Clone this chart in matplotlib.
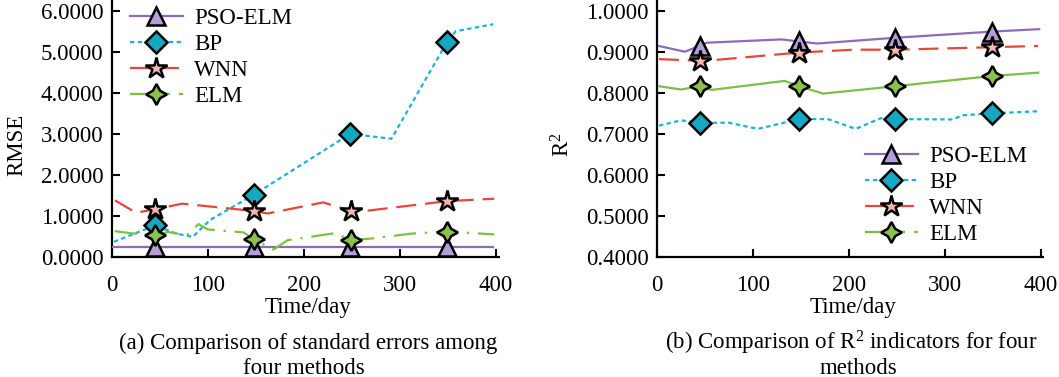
import matplotlib
matplotlib.use("Agg")
import matplotlib.pyplot as plt
from matplotlib.lines import Line2D

plt.rcParams['font.family'] = ['Liberation Serif', 'DejaVu Serif']
plt.rcParams['mathtext.fontset'] = 'custom'
plt.rcParams['mathtext.rm'] = 'Liberation Serif'
plt.rcParams['mathtext.it'] = 'Liberation Serif:italic'

series_names = ["PSO-ELM", "BP", "WNN", "ELM"]
x_ticks = [0, 100, 200, 300, 400]
rmse_ticks = [0, 1, 2, 3, 4, 5, 6]
r2_ticks = [0.4, 0.5, 0.6, 0.7, 0.8, 0.9, 1.0]

# ---- (a) RMSE ----
pso_rmse_x = [0, 45, 148, 248, 349, 397]
pso_rmse_y = [0.25, 0.25, 0.25, 0.25, 0.25, 0.25]
pso_rmse_mk = [1, 2, 3, 4]

bp_rmse_x = [2, 45, 67, 84, 102, 148, 248, 291, 349, 358, 397]
bp_rmse_y = [0.37, 0.77, 0.57, 0.49, 0.90, 1.52, 3.00, 2.88, 5.24, 5.50, 5.67]
bp_rmse_mk = [1, 5, 6, 8]

wnn_rmse_x = [3, 25, 45, 73, 148, 162, 220, 249, 263, 349, 398]
wnn_rmse_y = [1.38, 1.08, 1.16, 1.30, 1.12, 1.06, 1.33, 1.12, 1.12, 1.36, 1.42]
wnn_rmse_mk = [2, 4, 7, 9]

elm_rmse_x = [3, 23, 45, 58, 78, 90, 100, 137, 148, 168, 183, 232, 249, 270, 312, 349, 398]
elm_rmse_y = [0.63, 0.57, 0.53, 0.61, 0.53, 0.80, 0.67, 0.60, 0.43, 0.18, 0.41,
              0.58, 0.41, 0.45, 0.57, 0.62, 0.55]
elm_rmse_mk = [2, 8, 12, 15]

# ---- (b) R^2 ----
pso_r2_x = [2, 29, 45, 52, 130, 148, 167, 248, 349, 398]
pso_r2_y = [0.914, 0.900, 0.915, 0.922, 0.930, 0.925, 0.920, 0.934, 0.949, 0.955]
pso_r2_mk = [2, 5, 7, 8]

bp_r2_x = [2, 25, 45, 75, 105, 148, 178, 207, 233, 248, 308, 318, 349, 397]
bp_r2_y = [0.720, 0.733, 0.727, 0.727, 0.712, 0.736, 0.736, 0.712, 0.738, 0.736,
           0.735, 0.745, 0.750, 0.755]
bp_r2_mk = [2, 5, 9, 12]

wnn_r2_x = [2, 45, 56, 148, 205, 248, 349, 397]
wnn_r2_y = [0.882, 0.878, 0.879, 0.898, 0.905, 0.905, 0.911, 0.914]
wnn_r2_mk = [1, 3, 5, 6]

elm_r2_x = [2, 25, 45, 57, 133, 148, 173, 248, 349, 397]
elm_r2_y = [0.816, 0.808, 0.816, 0.807, 0.829, 0.816, 0.798, 0.816, 0.841, 0.849]
elm_r2_mk = [2, 5, 7, 8]

FS = 16.5
W, H = 1059, 377
fig = plt.figure(figsize=(W / 100, H / 100), dpi=100)

styles = {
    "PSO-ELM": dict(color='#8E6BB8', mfc='#B39DDB', marker='^', ms=13, ls='-'),
    "BP": dict(color='#1BB4D4', mfc='#14A8C2', marker='D', ms=11, ls=(0, (2, 1.5))),
    "WNN": dict(color='#E8453C', mfc='#F7B5B0', marker='*', ms=16, ls=(0, (9, 4))),
    "ELM": dict(color='#7DBF45', mfc='#8BC34A', marker=(4, 1, 0), ms=15, ls=(0, (10, 4, 1, 4))),
}


def draw(ax, x, y, mk, name, ls=None):
    st = styles[name]
    ax.plot(x, y, color=st['color'], lw=1.6, ls=ls if ls is not None else st['ls'],
            marker=st['marker'], ms=st['ms'], mfc=st['mfc'], mec='black', mew=1.8,
            markevery=mk, zorder=3)


def style_axes(ax):
    for s in ['top', 'right']:
        ax.spines[s].set_visible(False)
    for s in ['left', 'bottom']:
        ax.spines[s].set_linewidth(1.6)
    ax.tick_params(direction='in', length=6, width=1.5, labelsize=FS)
    ax.tick_params(axis='x', pad=13)
    ax.tick_params(axis='y', pad=6)


def legend_handles(elm_ls):
    hs = []
    for n in series_names:
        st = styles[n]
        ls = st['ls'] if n != 'ELM' else elm_ls
        hs.append(Line2D([], [], color=st['color'], lw=1.6, ls=ls, marker=st['marker'],
                         ms=st['ms'], mfc=st['mfc'], mec='black', mew=1.8))
    return hs


def px_axes(l, r, b, t):
    return fig.add_axes([l / W, 1 - b / H, (r - l) / W, (b - t) / H])


LEG = dict(frameon=False, fontsize=FS, handlelength=2.3, handletextpad=0.5,
           labelspacing=0.22, borderpad=0, borderaxespad=0, numpoints=1, loc='upper left')

# Left panel
ax1 = px_axes(112, 499, 257, 0)
draw(ax1, pso_rmse_x, pso_rmse_y, pso_rmse_mk, "PSO-ELM")
draw(ax1, bp_rmse_x, bp_rmse_y, bp_rmse_mk, "BP")
draw(ax1, wnn_rmse_x, wnn_rmse_y, wnn_rmse_mk, "WNN")
draw(ax1, elm_rmse_x, elm_rmse_y, elm_rmse_mk, "ELM")
ax1.set_xlim(0, 403)
ax1.set_ylim(0, 6.26)
ax1.set_xticks(x_ticks)
ax1.set_yticks(rmse_ticks)
ax1.set_yticklabels([f"{v:.4f}" for v in rmse_ticks])
style_axes(ax1)
ax1.legend(legend_handles((0, (7, 4))), series_names,
           bbox_to_anchor=((130 - 112) / 387, 1 - 8 / 257), **LEG)

# Right panel
ax2 = px_axes(657, 1043, 257, 0)
draw(ax2, pso_r2_x, pso_r2_y, pso_r2_mk, "PSO-ELM")
draw(ax2, bp_r2_x, bp_r2_y, bp_r2_mk, "BP")
draw(ax2, wnn_r2_x, wnn_r2_y, wnn_r2_mk, "WNN")
draw(ax2, elm_r2_x, elm_r2_y, elm_r2_mk, "ELM", ls='-')
ax2.set_xlim(0, 402)
ax2.set_ylim(0.4, 1.026)
ax2.set_xticks(x_ticks)
ax2.set_yticks(r2_ticks)
ax2.set_yticklabels([f"{v:.4f}" for v in r2_ticks])
style_axes(ax2)
ax2.legend(legend_handles((0, (7, 4))), series_names,
           bbox_to_anchor=((865 - 657) / 386, 1 - 146 / 257), **LEG)

# Axis labels and captions
fig.text(17 / W, 1 - 145 / H, "RMSE", rotation=90, ha='center', va='center', fontsize=FS)
fig.text(563 / W, 1 - 145 / H, "R$^2$", rotation=90, ha='center', va='center', fontsize=FS)
fig.text(308 / W, 1 - 307 / H, "Time/day", ha='center', va='center', fontsize=FS)
fig.text(853 / W, 1 - 307 / H, "Time/day", ha='center', va='center', fontsize=FS)
fig.text(308 / W, 1 - 343 / H, "(a) Comparison of standard errors among",
         ha='center', va='center', fontsize=FS)
fig.text(304 / W, 1 - 368 / H, "four methods", ha='center', va='center', fontsize=FS)
fig.text(851 / W, 1 - 343 / H, "(b) Comparison of R$^2$ indicators for four",
         ha='center', va='center', fontsize=FS)
fig.text(858 / W, 1 - 368 / H, "methods", ha='center', va='center', fontsize=FS)

fig.savefig("out.png", dpi=100)
